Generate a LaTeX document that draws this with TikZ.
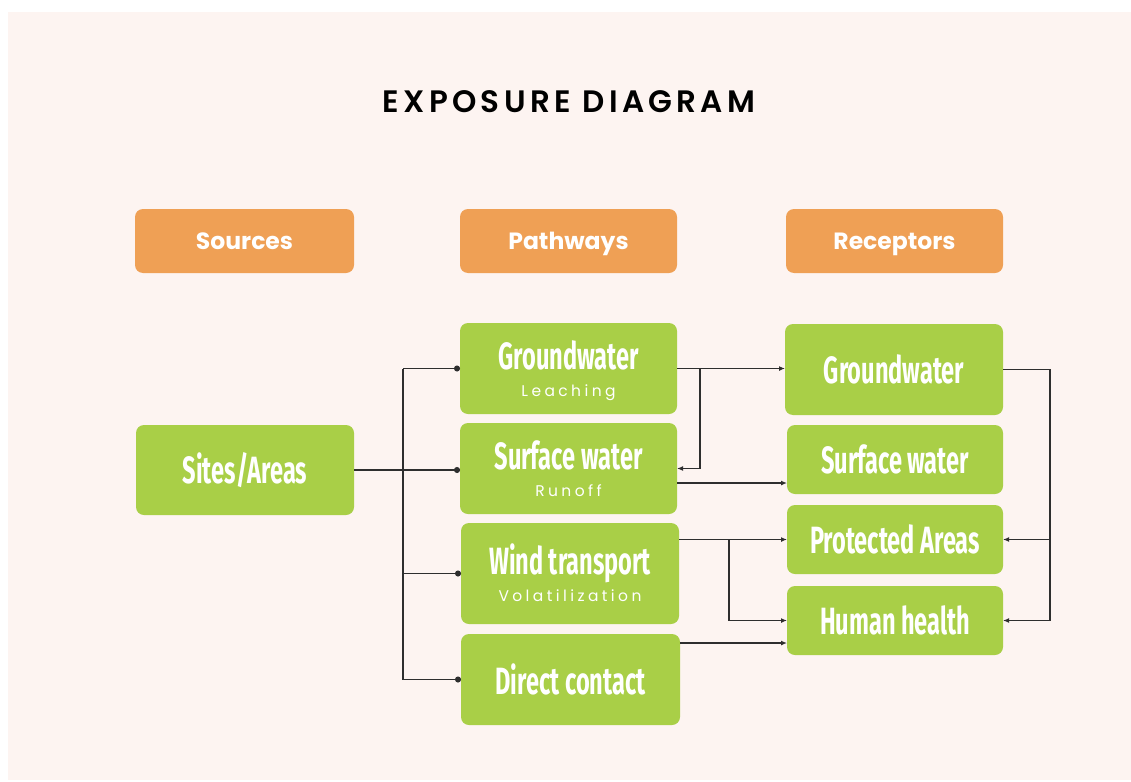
\documentclass[tikz,border=0pt]{standalone}
\usepackage{fontspec}
\setmainfont{Poppins}
\newfontfamily\titlefont[LetterSpace=14,UprightFont=* SemiBold]{Poppins}
\newfontfamily\headfont{Poppins}
\newfontfamily\greenfont[FakeStretch=0.62]{Fira Sans}
\newfontfamily\subfont[LetterSpace=22]{Poppins}
\usetikzlibrary{arrows.meta,calc}
\definecolor{bgpink}{HTML}{FDF4F1}
\definecolor{boxorange}{HTML}{EFA055}
\definecolor{boxgreen}{HTML}{A9CF47}
\definecolor{linegray}{HTML}{2E2E2E}
\tikzset{
  box/.style={rounded corners=8pt, inner sep=0pt, outer sep=0pt, align=center, text=white},
  headbox/.style={box, fill=boxorange, minimum height=64pt, text height=16.5pt, text depth=0pt,
    font=\headfont\bfseries\fontsize{23.5}{26}\selectfont},
  greenbox/.style={box, fill=boxgreen, font=\greenfont\bfseries\fontsize{38}{38}\selectfont},
  twoline/.style={text height=58pt, text depth=3pt},
  conn/.style={draw=linegray, line width=1.4pt},
  arr/.style={conn, -{Latex[length=6pt,width=5pt]}},
  dotend/.style={conn, -{Circle[length=6pt]}},
}
\newcommand{\subtxt}[1]{{\subfont\fontsize{15.5}{17}\selectfont\mdseries #1}}
\begin{document}
\begin{tikzpicture}[x=1pt,y=-1pt]
\useasboundingbox (0,0) rectangle (1131,781);
\fill[white] (0,0) rectangle (1131,781);
\fill[bgpink] (8,12) rectangle (1131,780);

\node[font=\titlefont\fontsize{31}{33}\selectfont, text=black] (title) at (569,102) {EXPOSURE DIAGRAM};

% header boxes
\node[headbox, minimum width=219pt] (src) at (244.5,241) {Sources};
\node[headbox, minimum width=217pt] (pth) at (568.5,241) {Pathways};
\node[headbox, minimum width=217pt] (rec) at (894.5,241) {Receptors};

% source
\node[greenbox, minimum width=218pt, minimum height=90pt] (sites) at (245,470) {Sites/Areas};

% pathways
\node[greenbox, twoline, minimum width=217pt, minimum height=91pt] (pgw) at (568.5,368.5)
  {Groundwater\\[-11pt]\subtxt{Leaching}};
\node[greenbox, twoline, minimum width=217pt, minimum height=91pt] (psw) at (568.5,468.5)
  {Surface water\\[-11pt]\subtxt{Runoff}};
\node[greenbox, twoline, minimum width=218pt, minimum height=101pt] (pwt) at (570,573.5)
  {Wind transport\\[-11pt]\subtxt{Volatilization}};
\node[greenbox, minimum width=219pt, minimum height=91pt] (pdc) at (570.5,679.5) {Direct contact};

% receptors
\node[greenbox, minimum width=218pt, minimum height=91pt] (rgw) at (894,369.5) {Groundwater};
\node[greenbox, minimum width=216pt, minimum height=69pt] (rsw) at (895,459.5) {Surface water};
\node[greenbox, minimum width=216pt, minimum height=69pt] (rpa) at (895,539.5) {Protected Areas};
\node[greenbox, minimum width=216pt, minimum height=69pt] (rhh) at (895,620.5) {Human health};

% left connectors
\coordinate (tr) at (403,470);
\draw[conn] (tr |- pgw.west) -- (tr |- pdc.west);
\draw[dotend] (sites.east) -- (sites.east -| psw.west);
\draw[dotend] (tr |- pgw.west) -- (pgw.west);
\draw[dotend] (tr |- pwt.west) -- (pwt.west);
\draw[dotend] (tr |- pdc.west) -- (pdc.west);

% middle connectors
\coordinate (b1) at (700,0);
\coordinate (b2) at (729,0);
\draw[arr] (pgw.east) -- (pgw.east -| rgw.west);
\draw[arr] (b1 |- pgw.east) |- (psw.east);
\draw[arr] ([yshift=-14.5pt]psw.east) -- ([yshift=-14.5pt]psw.east -| rsw.west);
\draw[arr] (pwt.east |- rpa.west) -- (rpa.west);
\draw[arr] (b2 |- rpa.west) |- (rhh.west);
\draw[arr] ([yshift=36.5pt]pdc.east) -- ([yshift=36.5pt]pdc.east -| rhh.west);

% right connectors
\coordinate (rt) at (1050,0);
\draw[conn] (rgw.east) -- (rgw.east -| rt) -- (rt |- rhh.east);
\draw[arr] (rt |- rpa.east) -- (rpa.east);
\draw[arr] (rt |- rhh.east) -- (rhh.east);
\end{tikzpicture}
\end{document}
